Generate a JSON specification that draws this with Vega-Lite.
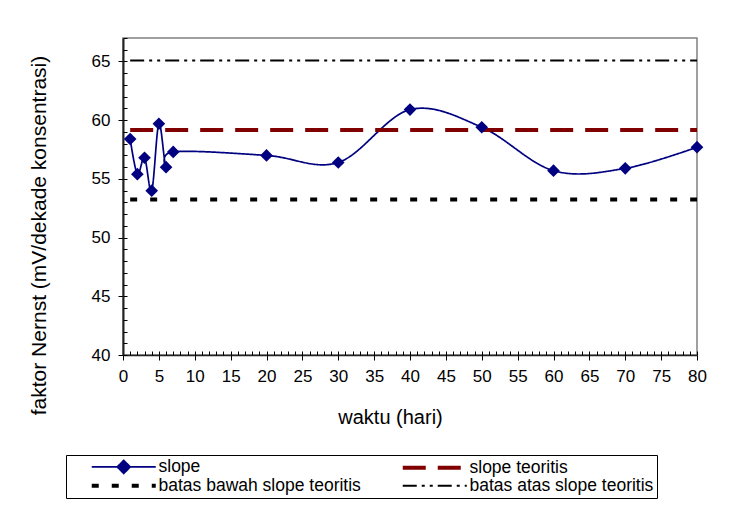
{
  "$schema": "https://vega.github.io/schema/vega-lite/v6.json",
  "width": 574,
  "height": 317,
  "autosize": {"type": "none"},
  "padding": {"left": 123, "top": 38, "right": 33, "bottom": 157},
  "background": "white",
  "config": {
    "font": "Liberation Sans",
    "view": {"stroke": "#808080", "strokeWidth": 1.5},
    "axis": {
      "labelFont": "Liberation Sans",
      "titleFont": "Liberation Sans",
      "labelFontSize": 17,
      "labelColor": "black",
      "titleColor": "black",
      "titleFontWeight": "normal",
      "grid": false,
      "tickColor": "black",
      "domainColor": "#222222",
      "labelFlush": false,
      "labelOverlap": false
    }
  },
  "data": {
    "values": [
      {"hari": 1, "faktor": 58.4, "seri": "slope"},
      {"hari": 2, "faktor": 55.4, "seri": "slope"},
      {"hari": 3, "faktor": 56.8, "seri": "slope"},
      {"hari": 4, "faktor": 54.0, "seri": "slope"},
      {"hari": 5, "faktor": 59.7, "seri": "slope"},
      {"hari": 6, "faktor": 56.0, "seri": "slope"},
      {"hari": 7, "faktor": 57.3, "seri": "slope"},
      {"hari": 20, "faktor": 57.0, "seri": "slope"},
      {"hari": 30, "faktor": 56.4, "seri": "slope"},
      {"hari": 40, "faktor": 60.9, "seri": "slope"},
      {"hari": 50, "faktor": 59.4, "seri": "slope"},
      {"hari": 60, "faktor": 55.7, "seri": "slope"},
      {"hari": 70, "faktor": 55.9, "seri": "slope"},
      {"hari": 80, "faktor": 57.7, "seri": "slope"},
      {"hari": 1, "faktor": 59.16, "seri": "slope teoritis"},
      {"hari": 80, "faktor": 59.16, "seri": "slope teoritis"},
      {"hari": 1, "faktor": 53.24, "seri": "batas bawah slope teoritis"},
      {"hari": 80, "faktor": 53.24, "seri": "batas bawah slope teoritis"},
      {"hari": 1, "faktor": 65.08, "seri": "batas atas slope teoritis"},
      {"hari": 80, "faktor": 65.08, "seri": "batas atas slope teoritis"}
    ]
  },
  "resolve": {"axis": {"x": "independent", "y": "independent"}},
  "layer": [
    {
      "mark": {"type": "line", "interpolate": "cardinal"},
      "encoding": {
        "x": {
          "field": "hari",
          "type": "quantitative",
          "scale": {"domain": [0, 80], "nice": false, "zero": false},
          "axis": {
            "orient": "bottom",
            "values": [0, 5, 10, 15, 20, 25, 30, 35, 40, 45, 50, 55, 60, 65, 70, 75, 80],
            "tickSize": 5,
            "labelPadding": 8,
            "domainWidth": 1.5,
            "title": "waktu (hari)",
            "titleFontSize": 20,
            "titleX": 267,
            "titleY": 68,
            "titleBaseline": "alphabetic"
          }
        },
        "y": {
          "field": "faktor",
          "type": "quantitative",
          "scale": {"domain": [40, 67], "nice": false, "zero": false},
          "axis": {
            "orient": "left",
            "values": [40, 45, 50, 55, 60, 65],
            "tickSize": 5,
            "labelPadding": 8,
            "domainWidth": 2,
            "title": "faktor Nernst (mV/dekade konsentrasi)",
            "titleFontSize": 21,
            "titleX": -78,
            "titleY": 197,
            "titleBaseline": "alphabetic"
          }
        },
        "color": {
          "field": "seri",
          "type": "nominal",
          "scale": {
            "domain": ["slope", "slope teoritis", "batas bawah slope teoritis", "batas atas slope teoritis"],
            "range": ["#000080", "#800000", "#000000", "#000000"]
          },
          "legend": {
            "orient": "none",
            "legendX": -57,
            "legendY": 417,
            "direction": "horizontal",
            "columns": 2,
            "gridAlign": "all",
            "title": null,
            "strokeColor": "black",
            "fillColor": "white",
            "padding": 3,
            "symbolOffset": 46,
            "symbolSize": 100,
            "labelOffset": 26,
            "labelFont": "Liberation Sans",
            "labelFontSize": 17.5,
            "labelColor": "black",
            "labelLimit": 400,
            "columnPadding": 19,
            "rowPadding": -2,
            "encode": {
              "symbols": {
                "update": {
                  "shape": {"signal": "datum.value === 'slope' ? 'M-6.4,0H6.4M0,-1.3L1.3,0L0,1.3L-1.3,0Z' : 'M-6.4,0H6.4'"},
                  "fill": {"signal": "datum.value === 'slope' ? '#000080' : 'transparent'"},
                  "strokeWidth": {"signal": "datum.value === 'slope teoritis' || datum.value === 'batas bawah slope teoritis' ? 4 : datum.value === 'slope' ? 1.7 : 2"}
                }
              }
            }
          }
        },
        "strokeDash": {
          "field": "seri",
          "type": "nominal",
          "scale": {
            "domain": ["slope", "slope teoritis", "batas bawah slope teoritis", "batas atas slope teoritis"],
            "range": [[1, 0], [23, 12], [7, 13], [14, 5, 3, 5, 3, 5]]
          }
        },
        "strokeWidth": {
          "condition": [
            {"test": "datum.seri === 'slope teoritis' || datum.seri === 'batas bawah slope teoritis'", "value": 4},
            {"test": "datum.seri === 'batas atas slope teoritis'", "value": 2}
          ],
          "value": 1.7
        }
      }
    },
    {
      "transform": [{"filter": "datum.seri === 'slope'"}],
      "mark": {"type": "point", "shape": "diamond", "filled": true, "size": 160, "color": "#000080", "opacity": 1},
      "encoding": {
        "x": {
          "field": "hari",
          "type": "quantitative",
          "axis": {
            "orient": "bottom",
            "values": [0,1,2,3,4,5,6,7,8,9,10,11,12,13,14,15,16,17,18,19,20,21,22,23,24,25,26,27,28,29,30,31,32,33,34,35,36,37,38,39,40,41,42,43,44,45,46,47,48,49,50,51,52,53,54,55,56,57,58,59,60,61,62,63,64,65,66,67,68,69,70,71,72,73,74,75,76,77,78,79,80],
            "tickSize": -4,
            "labels": false,
            "domain": false,
            "title": null
          }
        },
        "y": {
          "field": "faktor",
          "type": "quantitative",
          "axis": {
            "orient": "left",
            "values": [40,41,42,43,44,45,46,47,48,49,50,51,52,53,54,55,56,57,58,59,60,61,62,63,64,65,66,67],
            "tickSize": -4,
            "labels": false,
            "domain": false,
            "title": null
          }
        }
      }
    }
  ]
}
